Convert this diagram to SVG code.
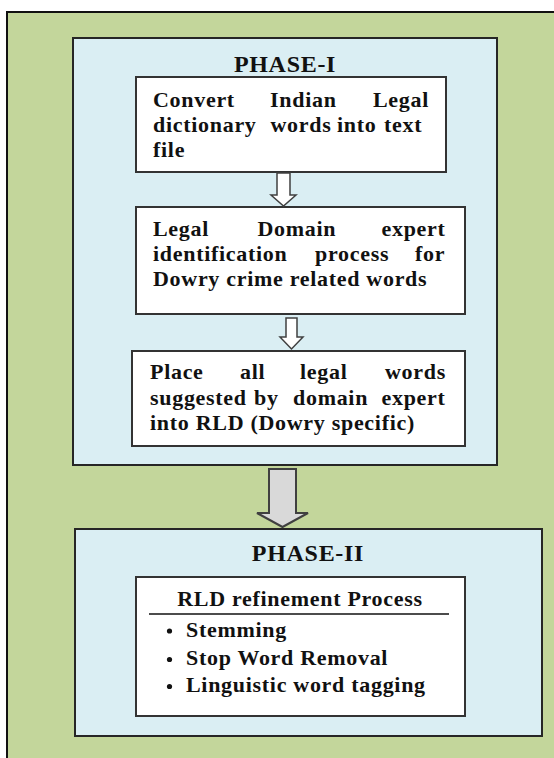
<svg xmlns="http://www.w3.org/2000/svg" width="554" height="758" viewBox="0 0 554 758">
<style>
  .frame { fill: #c3d69b; stroke: #111; stroke-width: 2; }
  .phase { fill: #daeef3; stroke: #262626; stroke-width: 2; }
  .box { fill: #ffffff; stroke: #333; stroke-width: 2; }
  .t { font-family: "Liberation Serif", "Times New Roman", serif; font-weight: bold; font-size: 22px; letter-spacing: 0.7px; fill: #111; }
  .title { font-family: "Liberation Serif", "Times New Roman", serif; font-weight: bold; font-size: 24px; letter-spacing: 0.7px; fill: #111; text-anchor: middle; }
  .small-arrow { fill: #ffffff; stroke: #404040; stroke-width: 1.5; stroke-linejoin: miter; }
  .big-arrow { fill: #d9d9d9; stroke: #404040; stroke-width: 2; }
</style>
<rect class="frame" x="7" y="12" width="560" height="760"/>

<g id="phase1">
  <rect class="phase" x="73" y="38" width="424" height="427"/>
  <text class="title" x="285" y="72">PHASE-I</text>
</g>

<g id="step1">
  <rect class="box" x="136" y="77" width="310" height="95"/>
  <text class="t" y="107"><tspan x="153">Convert</tspan><tspan x="270">Indian</tspan><tspan x="373">Legal</tspan></text>
  <text class="t" y="132"><tspan x="153">dictionary</tspan><tspan x="270.5">words</tspan><tspan x="337">into</tspan><tspan x="384">text</tspan></text>
  <text class="t" x="153" y="157">file</text>
</g>

<g id="step2">
  <rect class="box" x="136" y="207" width="329" height="107"/>
  <text class="t" y="236"><tspan x="153">Legal</tspan><tspan x="257.5">Domain</tspan><tspan x="381.5">expert</tspan></text>
  <text class="t" y="261"><tspan x="153">identification</tspan><tspan x="315">process</tspan><tspan x="415">for</tspan></text>
  <text class="t" x="153" y="286">Dowry crime related words</text>
</g>

<g id="step3">
  <rect class="box" x="132" y="351" width="333" height="95"/>
  <text class="t" y="379"><tspan x="150">Place</tspan><tspan x="240">all</tspan><tspan x="300">legal</tspan><tspan x="385">words</tspan></text>
  <text class="t" y="405"><tspan x="150">suggested</tspan><tspan x="254">by</tspan><tspan x="293">domain</tspan><tspan x="381.5">expert</tspan></text>
  <text class="t" x="150" y="430">into RLD (Dowry specific)</text>
</g>

<g id="phase2">
  <rect class="phase" x="75" y="529" width="467" height="207"/>
  <text class="title" x="308" y="561">PHASE-II</text>
</g>

<g id="refinement">
  <rect class="box" x="136" y="577" width="329" height="139"/>
  <text class="t" x="300" y="606" text-anchor="middle">RLD refinement Process</text>
  <line x1="149" y1="614" x2="449" y2="614" stroke="#111" stroke-width="1.5"/>
  <circle cx="169.5" cy="631" r="2.6" fill="#111"/>
  <text class="t" x="186" y="637">Stemming</text>
  <circle cx="169.5" cy="659.5" r="2.6" fill="#111"/>
  <text class="t" x="186" y="665">Stop Word Removal</text>
  <circle cx="169.5" cy="686.5" r="2.6" fill="#111"/>
  <text class="t" x="186" y="692">Linguistic word tagging</text>
</g>

<g id="connectors">
  <polygon class="small-arrow" points="277,173 290,173 290,195 296,195 283.5,206 271,195 277,195"/>
  <polygon class="small-arrow" points="286,318 297,318 297,337 303,337 291.5,349 280,337 286,337"/>
  <polygon class="big-arrow" points="269,469 296,469 296,513 308,513 282.5,527 257,513 269,513"/>
</g>
</svg>
